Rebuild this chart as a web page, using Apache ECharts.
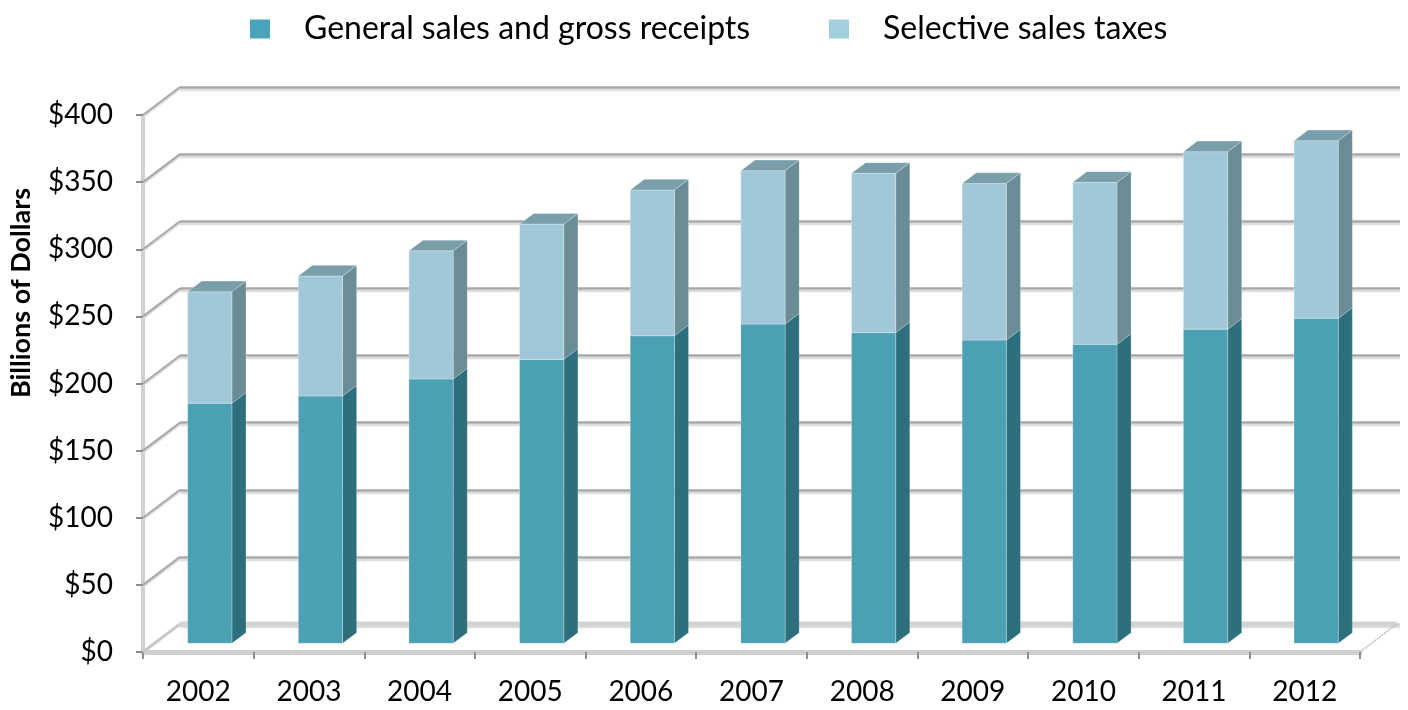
<!DOCTYPE html>
<html>
<head>
<meta charset="utf-8">
<script src="https://cdn.jsdelivr.net/npm/echarts@6/dist/echarts.min.js"></script>
<style>
html,body{margin:0;padding:0;background:#fff;}
#chart{width:1408px;height:710px;}
</style>
</head>
<body>
<div id="chart"></div>
<script>
const categories = ['2002','2003','2004','2005','2006','2007','2008','2009','2010','2011','2012'];
const generalSales = [178.8, 184.2, 196.9, 211.5, 229.1, 237.8, 231.4, 225.9, 222.7, 233.9, 242.1];
const selectiveSales = [83.1, 89.4, 95.5, 100.8, 108.6, 114.2, 118.7, 116.7, 120.7, 132.3, 132.3];
const yTickValues = [0, 50, 100, 150, 200, 250, 300, 350, 400];
const seriesNames = ['General sales and gross receipts', 'Selective sales taxes'];
const axisTitle = 'Billions of Dollars';

const FONT = 'Lato, "Open Sans", sans-serif';
const DX = 37, DY = -28;          // depth of the 3D box
const FRONT = 0.31, DEPTH = 0.38; // bar placement within depth

const chart = echarts.init(document.getElementById('chart'));

function barRenderer(front, side, topCol, drawTop) {
  return function (params, api) {
    const i = api.value(0), lo = api.value(1), hi = api.value(2);
    const band = api.size([1, 0])[0];
    const c = api.coord([i, lo]);
    const t = api.coord([i, hi]);
    const w = band * 0.4;
    const fx = FRONT * DX, fy = FRONT * DY;
    const dx = DEPTH * DX, dy = DEPTH * DY;
    const xL = c[0] - w / 2 + fx, xR = xL + w;
    const yb = c[1] + fy, yt = t[1] + fy;
    const children = [
      { type: 'polygon', shape: { points: [[xR, yb], [xR + dx, yb + dy], [xR + dx, yt + dy], [xR, yt]] },
        style: { fill: side, stroke: 'rgba(255,255,255,0.25)', lineWidth: 0.8 } },
      { type: 'rect', shape: { x: xL, y: yt, width: w, height: yb - yt },
        style: { fill: front, stroke: 'rgba(255,255,255,0.35)', lineWidth: 0.8 } }
    ];
    if (drawTop) {
      children.push({ type: 'polygon', shape: { points: [[xL, yt], [xL + dx, yt + dy], [xR + dx, yt + dy], [xR, yt]] },
        style: { fill: topCol, stroke: 'rgba(255,255,255,0.35)', lineWidth: 0.8 } });
    }
    return { type: 'group', children: children };
  };
}

function frameRenderer(params, api) {
  const v = api.value(1);
  const cs = params.coordSys;
  const p = api.coord([0, v]);
  const x0 = cs.x, y = p[1];
  const children = [];
  if (v === 0) {
    children.push({ type: 'line', shape: { x1: x0 + DX, y1: y + DY, x2: x0 + cs.width + DX, y2: y + DY },
      style: { stroke: '#d3d3d3', lineWidth: 5 } });
    children.push({ type: 'line', shape: { x1: x0, y1: y, x2: x0 + DX, y2: y + DY },
      style: { stroke: '#c8c8c8', lineWidth: 3 } });
    children.push({ type: 'line', shape: { x1: x0 + cs.width, y1: y, x2: x0 + cs.width + DX, y2: y + DY },
      style: { stroke: '#bbbbbb', lineWidth: 1.5, lineDash: [2, 1] } });
  } else {
    children.push({ type: 'line', shape: { x1: x0, y1: y + 2, x2: x0 + DX, y2: y + DY + 2 },
      style: { stroke: '#dcdcdc', lineWidth: 2 } });
    children.push({ type: 'line', shape: { x1: x0, y1: y, x2: x0 + DX, y2: y + DY },
      style: { stroke: '#a8a8a8', lineWidth: 2 } });
  }
  return { type: 'group', children: children };
}

const option = {
  backgroundColor: '#ffffff',
  animation: false,
  textStyle: { fontFamily: FONT },
  legend: [
    { left: 245, top: 8, itemWidth: 20, itemHeight: 19, icon: 'rect', data: [seriesNames[0]],
      textStyle: { fontSize: 32, color: '#000', fontFamily: FONT, padding: [0, 0, 0, 29] } },
    { left: 824, top: 8, itemWidth: 20, itemHeight: 19, icon: 'rect', data: [seriesNames[1]],
      textStyle: { fontSize: 32, color: '#000', fontFamily: FONT, padding: [0, 0, 0, 29] } }
  ],
  grid: [
    { left: 143, right: 48, top: 115, bottom: 58 },
    { left: 180, right: 8, top: 87, bottom: 86 }
  ],
  xAxis: [
    { type: 'category', gridIndex: 0, data: categories, boundaryGap: true,
      axisLine: { show: true, lineStyle: { color: '#d0d0d0', width: 5 } },
      axisTick: { show: true, interval: 0, length: 7, lineStyle: { color: '#8c8c8c', width: 2 } },
      axisLabel: { fontSize: 28, color: '#000', margin: 26, fontFamily: FONT },
      splitLine: { show: false } },
    { type: 'category', gridIndex: 1, data: categories, show: false }
  ],
  yAxis: [
    { type: 'value', gridIndex: 0, min: 0, max: 400, interval: 50,
      axisLine: { show: true, lineStyle: { color: '#d0d0d0', width: 4 } },
      axisTick: { show: true, length: 7, lineStyle: { color: '#8c8c8c', width: 2 } },
      axisLabel: { fontSize: 28, color: '#000', margin: 30, fontFamily: FONT, formatter: v => '$' + v },
      splitLine: { show: false } },
    { type: 'value', gridIndex: 1, min: 0, max: 400, interval: 50,
      axisLine: { show: false }, axisTick: { show: false }, axisLabel: { show: false },
      splitLine: { show: true, lineStyle: { color: ['#d3d3d3', '#a8a8a8', '#a8a8a8', '#a8a8a8', '#a8a8a8', '#a8a8a8', '#a8a8a8', '#a8a8a8', '#a8a8a8'],
        width: 2.5, shadowColor: '#dedede', shadowOffsetY: 2.5, shadowBlur: 0 } } }
  ],
  graphic: [
    { type: 'text', x: 21, y: 293, rotation: Math.PI / 2,
      style: { text: axisTitle, font: 'bold 27px ' + FONT, fill: '#000', align: 'center', verticalAlign: 'middle' } }
  ],
  series: [
    { type: 'custom', name: 'frame', xAxisIndex: 0, yAxisIndex: 0, clip: false, z: 1, silent: true,
      renderItem: frameRenderer, data: yTickValues.map(v => [0, v]) },
    { type: 'custom', name: seriesNames[0], xAxisIndex: 0, yAxisIndex: 0, clip: false, z: 3,
      itemStyle: { color: '#4aa5bc' },
      renderItem: barRenderer('#4ba0b4', '#2d6f7d', '#3f8a9c', false),
      data: generalSales.map((v, i) => [i, 0, v]) },
    { type: 'custom', name: seriesNames[1], xAxisIndex: 0, yAxisIndex: 0, clip: false, z: 3,
      itemStyle: { color: '#a1cfdc' },
      renderItem: barRenderer('#a1c8d8', '#6a8c95', '#7a9fab', true),
      data: selectiveSales.map((v, i) => [i, generalSales[i], generalSales[i] + v]) }
  ]
};
chart.setOption(option);
</script>
</body>
</html>
